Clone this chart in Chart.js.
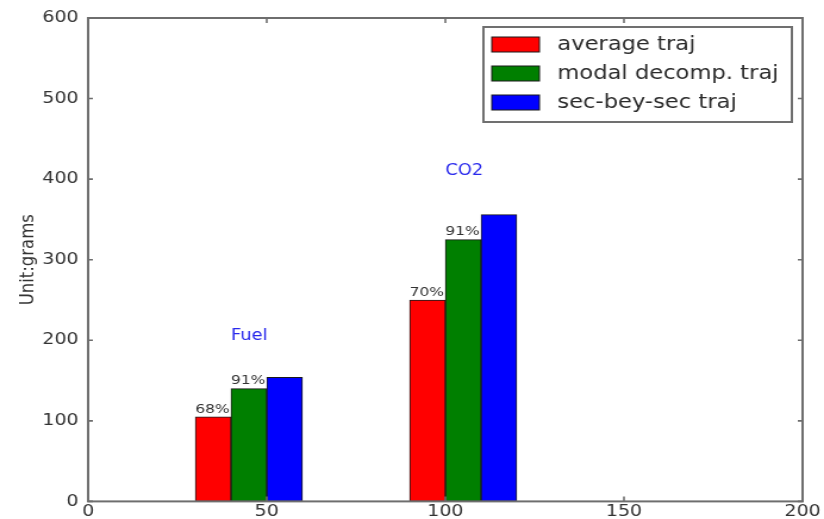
<!DOCTYPE html>
<html>
<head>
<meta charset="utf-8">
<script src="https://cdn.jsdelivr.net/npm/chart.js@4/dist/chart.umd.min.js"></script>
<style>
  html, body { margin: 0; padding: 0; background: #ffffff; }
</style>
</head>
<body>
<!-- the canvas is drawn narrower and widened on screen, giving the wide glyphs -->
<canvas id="chart" width="692" height="519" style="display:block;width:824px;height:519px;"></canvas>
<script>
// ---- data ----
const seriesNames = ['average traj', 'modal decomp. traj', 'sec-bey-sec traj'];
const groupNames = ['Fuel', 'CO2'];
const averageTraj = [105, 250];
const modalDecompTraj = [140, 325];
const secBeySecTraj = [154, 356];
const groupStarts = [30, 90];          // x value where each group's first bar begins
const xTicks = [0, 50, 100, 150, 200];
const yTicks = [0, 100, 200, 300, 400, 500, 600];

const BAR_W = 10;                      // bar width in x units
const seriesValues = [averageTraj, modalDecompTraj, secBeySecTraj];
const seriesColors = ['#ff0000', '#007f00', '#0000ff'];
const FONT = '"DejaVu Sans", "Liberation Sans", sans-serif';

const datasets = seriesValues.map((vals, s) => ({
  label: seriesNames[s],
  data: vals.map((v, g) => ({ x: groupStarts[g] + BAR_W * (s + 0.5), y: v })),
  backgroundColor: seriesColors[s],
  borderColor: '#1a1a1a',
  borderWidth: 1,
  borderSkipped: false,
  grouped: false,
  barPercentage: 1,
  categoryPercentage: 1
}));

// axes box plus inward tick marks on all four sides
const framePlugin = {
  id: 'frame',
  afterDatasetsDraw(chart) {
    const { ctx, chartArea: a, scales: { x, y } } = chart;
    ctx.save();
    ctx.strokeStyle = '#6e6e6e';
    ctx.lineWidth = 1.6;
    ctx.beginPath();
    xTicks.forEach(v => {
      const px = x.getPixelForValue(v);
      ctx.moveTo(px, a.bottom); ctx.lineTo(px, a.bottom - 5);
      ctx.moveTo(px, a.top); ctx.lineTo(px, a.top + 5);
    });
    yTicks.forEach(v => {
      const py = y.getPixelForValue(v);
      ctx.moveTo(a.left, py); ctx.lineTo(a.left + 4, py);
      ctx.moveTo(a.right, py); ctx.lineTo(a.right - 4, py);
    });
    ctx.stroke();
    ctx.lineWidth = 2;
    ctx.strokeRect(a.left, a.top, a.right - a.left, a.bottom - a.top);
    ctx.restore();
  }
};

// group names and the share of the sec-bey-sec total above the first two bars
const notesPlugin = {
  id: 'notes',
  afterDatasetsDraw(chart, args, opts) {
    const { ctx, scales: { x, y } } = chart;
    ctx.save();
    ctx.textAlign = 'left';
    ctx.font = '15px ' + FONT;
    ctx.fillStyle = '#2828ec';
    ctx.textBaseline = 'alphabetic';
    groupNames.forEach((name, g) => {
      const at = opts.groupLabelAt[g];
      ctx.fillText(name, x.getPixelForValue(at[0]), y.getPixelForValue(at[1]));
    });
    ctx.font = '13px ' + FONT;
    ctx.fillStyle = '#333333';
    ctx.textBaseline = 'bottom';
    [averageTraj, modalDecompTraj].forEach((vals, s) => {
      vals.forEach((v, g) => {
        const pct = Math.round(100 * v / secBeySecTraj[g]) + '%';
        ctx.fillText(pct, x.getPixelForValue(groupStarts[g] + BAR_W * s), y.getPixelForValue(v) - 1);
      });
    });
    ctx.restore();
  }
};

// boxed legend in the upper right of the plot
const boxLegendPlugin = {
  id: 'boxLegend',
  afterDraw(chart) {
    const { ctx, chartArea: a } = chart;
    const boxW = 259, boxH = 95;
    const bx = a.right - 9 - boxW, by = a.top + 9;
    ctx.save();
    ctx.fillStyle = '#ffffff';
    ctx.fillRect(bx, by, boxW, boxH);
    ctx.strokeStyle = '#707070';
    ctx.lineWidth = 2;
    ctx.strokeRect(bx, by, boxW, boxH);
    ctx.font = '19px ' + FONT;
    ctx.textAlign = 'left';
    ctx.textBaseline = 'middle';
    chart.data.datasets.forEach((ds, i) => {
      const cy = by + 17.5 + i * 29;
      ctx.fillStyle = ds.backgroundColor;
      ctx.fillRect(bx + 7, cy - 7.5, 40, 15);
      ctx.strokeStyle = '#1a1a1a';
      ctx.lineWidth = 1;
      ctx.strokeRect(bx + 7, cy - 7.5, 40, 15);
      ctx.fillStyle = '#2b2b2b';
      ctx.fillText(ds.label, bx + 62, cy + 1);
    });
    ctx.restore();
  }
};

new Chart(document.getElementById('chart'), {
  type: 'bar',
  data: { datasets },
  options: {
    responsive: false,
    devicePixelRatio: 1,
    animation: false,
    layout: { padding: { top: 18, right: 18, bottom: 0, left: 0 } },
    plugins: {
      legend: { display: false },
      tooltip: { enabled: false },
      notes: { groupLabelAt: [[40, 200], [100, 405]] }
    },
    scales: {
      x: {
        type: 'linear',
        min: 0, max: 200,
        offset: false,
        grid: { display: false, drawTicks: false },
        border: { display: false },
        afterBuildTicks: s => { s.ticks = xTicks.map(v => ({ value: v })); },
        afterFit: s => { s.height = 17; },
        ticks: {
          font: { family: FONT, size: 16 },
          color: '#333333',
          padding: 1,
          maxRotation: 0,
          autoSkip: false
        }
      },
      y: {
        type: 'linear',
        min: 0, max: 600,
        grid: { display: false, drawTicks: false },
        border: { display: false },
        afterBuildTicks: s => { s.ticks = yTicks.map(v => ({ value: v })); },
        afterFit: s => { s.width = 74; },
        ticks: {
          font: { family: FONT, size: 16 },
          color: '#333333',
          padding: 8
        },
        title: {
          display: true,
          text: 'Unit:grams',
          font: { family: FONT, size: 16.5 },
          color: '#333333',
          padding: { top: 14, bottom: 0 }
        }
      }
    }
  },
  plugins: [framePlugin, notesPlugin, boxLegendPlugin]
});
</script>
</body>
</html>
